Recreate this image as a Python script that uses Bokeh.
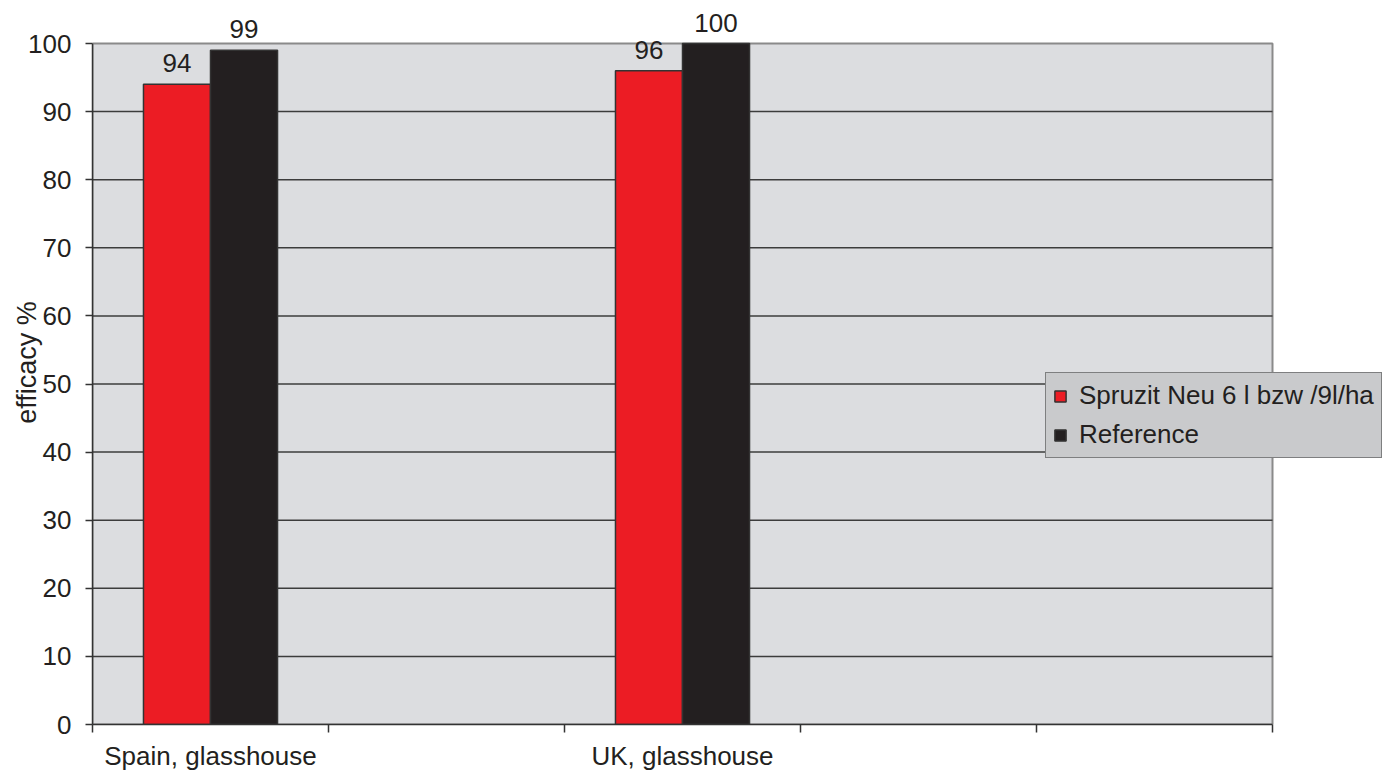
from bokeh.plotting import figure
from bokeh.models import (ColumnDataSource, Range1d, LinearAxis, FixedTicker, LabelSet,
                          Legend, LegendItem)
from bokeh.core.properties import value
from bokeh.transform import dodge
from bokeh.embed import file_html
from bokeh.resources import INLINE

# Trial sites (blank slots keep the empty columns of the chart)
categories = ["Spain, glasshouse", "", "UK, glasshouse", "", ""]
spruzit = [94, None, 96, None, None]
reference = [99, None, 100, None, None]
series_names = ["Spruzit Neu 6 l bzw /9l/ha", "Reference"]
y_ticks = list(range(0, 101, 10))
y_max = 100

FONT = "Liberation Sans"
TEXT = "#231f20"
RED = "#ec1c24"
BLACK = "#231f20"
GRID = "#3c3c3c"
FS = "26px"

W, H = 1384, 774
LEFT, BOTTOM = 92, 50
PANEL_W, PANEL_H = 1180, 681   # size of the grey plotting panel in pixels

n = len(categories)
centers = [i + 0.5 for i in range(n)]
rows = [i for i, v in enumerate(spruzit) if v is not None]
src = ColumnDataSource(dict(
    x=[centers[i] for i in rows],
    spruzit=[spruzit[i] for i in rows],
    reference=[reference[i] for i in rows],
))
src.data["spruzit_lbl"] = [str(v) for v in src.data["spruzit"]]
src.data["reference_lbl"] = [str(v) for v in src.data["reference"]]

# the frame reaches the right and top edges of the canvas, so value labels and the
# legend can spill past the grey panel
frame_w, frame_h = W - LEFT, H - BOTTOM
p = figure(width=W, height=H,
           x_range=Range1d(0, n * frame_w / PANEL_W),
           y_range=Range1d(0, y_max * frame_h / PANEL_H),
           output_backend="svg", toolbar_location=None, x_axis_location=None,
           min_border_left=LEFT, min_border_right=0, min_border_top=0, min_border_bottom=BOTTOM)
p.background_fill_color = "white"
p.border_fill_color = "white"
p.outline_line_color = None
p.xgrid.grid_line_color = None
p.ygrid.grid_line_color = None

# grey panel
p.quad(left=[0], right=[n], bottom=[0], top=[y_max], fill_color="#dcdde0",
       line_color="#8a8a8a", line_width=2)

# horizontal grid lines
grid_vals = [t for t in y_ticks if 0 < t < y_max]
p.segment(x0=[0] * len(grid_vals), x1=[n] * len(grid_vals), y0=grid_vals, y1=grid_vals,
          line_color=GRID, line_width=1.5)

bw = 0.284
r1 = p.vbar(x=dodge("x", -bw / 2), top="spruzit", width=bw, source=src,
            fill_color=RED, line_color="#333333", line_width=1.5)
r2 = p.vbar(x=dodge("x", bw / 2), top="reference", width=bw, source=src,
            fill_color=BLACK, line_color="#333333", line_width=1.5)

for col, off in (("spruzit", -bw / 2), ("reference", bw / 2)):
    p.add_layout(LabelSet(x=dodge("x", off), y=col, text=col + "_lbl",
                          source=src, text_align="center", text_baseline="alphabetic",
                          y_offset=12, text_font=value(FONT), text_font_size=FS,
                          text_color=TEXT))

# y axis
yax = p.yaxis[0]
yax.bounds = (0, y_max)
yax.ticker = FixedTicker(ticks=y_ticks)
yax.axis_label = "efficacy %"
yax.axis_label_text_font = FONT
yax.axis_label_text_font_size = "27px"
yax.axis_label_text_font_style = "normal"
yax.axis_label_text_color = TEXT
yax.axis_label_standoff = -17
yax.major_label_text_font = FONT
yax.major_label_text_font_size = FS
yax.major_label_text_color = TEXT
yax.major_label_standoff = 14
yax.major_tick_out = 7
yax.major_tick_in = 0
yax.minor_tick_line_color = None
yax.axis_line_color = "#333333"
yax.axis_line_width = 1.5
yax.major_tick_line_color = "#333333"
yax.major_tick_line_width = 1.5

# tick marks on slot boundaries
bax = LinearAxis(ticker=FixedTicker(ticks=list(range(n + 1))), bounds=(0, n),
                 major_label_text_font_size="0px", major_label_standoff=0,
                 major_tick_out=8, major_tick_in=0, minor_tick_line_color=None,
                 axis_line_color="#333333", axis_line_width=1.5,
                 major_tick_line_color="#333333", major_tick_line_width=1.5)
p.add_layout(bax, "below")

# category names centred in their slots
cax = LinearAxis(ticker=FixedTicker(ticks=centers), bounds=(0, n),
                 major_label_overrides={c: (name if name else " ") for c, name in zip(centers, categories)},
                 axis_line_color=None, major_tick_line_color=None, minor_tick_line_color=None,
                 major_label_text_font=FONT, major_label_text_font_size=FS,
                 major_label_text_color=TEXT, major_label_standoff=2)
p.add_layout(cax, "below")

legend = Legend(items=[LegendItem(label=series_names[0], renderers=[r1]),
                       LegendItem(label=series_names[1], renderers=[r2])],
                location=(953, 266), background_fill_color="#c9cacc", background_fill_alpha=1,
                border_line_color="#333333", border_line_width=1.5,
                label_text_font=FONT, label_text_font_size=FS, label_text_color=TEXT,
                glyph_width=14, glyph_height=14, label_standoff=12, padding=7, spacing=8,
                label_height=28, margin=0)
p.add_layout(legend, "center")

open("out.html", "w").write(file_html(p, INLINE))
